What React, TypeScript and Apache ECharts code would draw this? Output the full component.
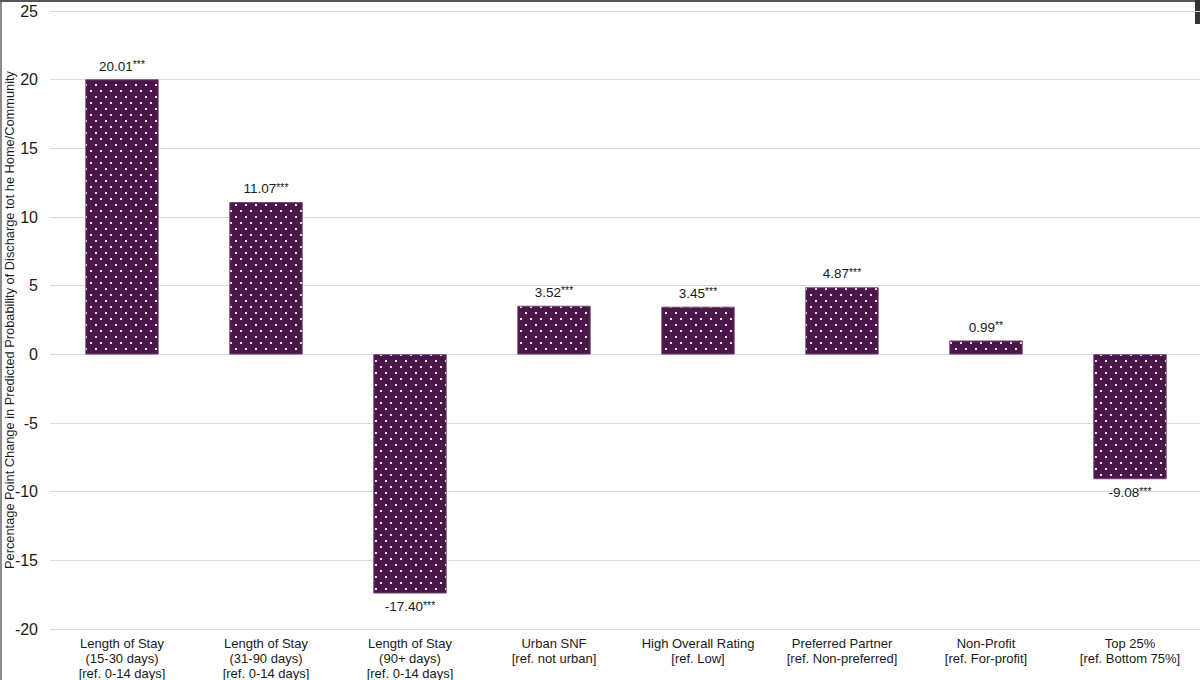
import React, { useEffect, useRef } from "react";
import * as echarts from "echarts";

const categories = [
  "Length of Stay\n(15-30 days)\n[ref. 0-14 days]",
  "Length of Stay\n(31-90 days)\n[ref. 0-14 days]",
  "Length of Stay\n(90+ days)\n[ref. 0-14 days]",
  "Urban SNF\n[ref. not urban]",
  "High Overall Rating\n[ref. Low]",
  "Preferred Partner\n[ref. Non-preferred]",
  "Non-Profit\n[ref. For-profit]",
  "Top 25%\n[ref. Bottom 75%]",
];
const values = [20.01, 11.07, -17.4, 3.52, 3.45, 4.87, 0.99, -9.08];
const stars = ["***", "***", "***", "***", "***", "***", "**", "***"];
const yAxisName =
  "Percentage Point Change in Predicted Probability of Discharge tot he Home/Community";

const FONT = "'Liberation Sans', Arial, Helvetica, sans-serif";

export default function App() {
  const ref = useRef<HTMLDivElement>(null);
  useEffect(() => {
    document.body.style.margin = "0";
    const chart = echarts.init(ref.current!, null, { renderer: "svg" });
    chart.setOption({
      animation: false,
      backgroundColor: "#ffffff",
      textStyle: { fontFamily: FONT },
      grid: {
        left: 50,
        top: 11,
        width: 1152,
        bottom: 51,
        containLabel: false,
        outerBoundsMode: "none",
      },
      xAxis: {
        type: "category",
        data: categories,
        axisLine: { show: false },
        axisTick: { show: false },
        axisLabel: {
          color: "#1a1a1a",
          fontSize: 13,
          lineHeight: 14.8,
          margin: 7,
          interval: 0,
          verticalAlign: "top",
          fontFamily: FONT,
        },
      },
      yAxis: {
        type: "value",
        min: -20,
        max: 25,
        interval: 5,
        axisLine: { show: false },
        axisTick: { show: false },
        axisLabel: { fontSize: 16, color: "#1a1a1a", margin: 12, fontFamily: FONT },
        splitLine: { lineStyle: { color: "#d9d9d9", width: 1 } },
      },
      series: [
        {
          type: "bar",
          barWidth: 73,
          data: values.map((v, i) => ({
            value: v,
            label: {
              position: v >= 0 ? "top" : "bottom",
              formatter: () => `{v|${v.toFixed(2)}}{s|${stars[i]}}`,
            },
          })),
          itemStyle: {
            color: "#4a1749",
            borderColor: "#6b3f6a",
            borderWidth: 0.6,
            decal: {
              symbol: "rect",
              symbolSize: 1,
              color: "#f3dcf0",
              dashArrayX: [
                [2, 7.5],
                [0, 4.75, 2, 2.75],
              ],
              dashArrayY: [2, 3.3],
              rotation: 0,
            },
          },
          label: {
            show: true,
            distance: 6,
            color: "#1a1a1a",
            rich: {
              v: { fontSize: 13.5, color: "#1a1a1a", fontFamily: FONT },
              s: {
                fontSize: 10.5,
                color: "#1a1a1a",
                fontFamily: FONT,
                padding: [0, 0, 4, 0],
              },
            },
          },
        },
      ],
      graphic: [
        { type: "rect", left: 0, top: 0, shape: { width: 2, height: 680 }, style: { fill: "#8c8c8c" } },
        { type: "rect", left: 0, top: 0, shape: { width: 1200, height: 2 }, style: { fill: "#555555" } },
        { type: "rect", left: 1195, top: 0, shape: { width: 5, height: 24 }, style: { fill: "#333333" } },
        {
          type: "text",
          x: 9,
          y: 320,
          rotation: Math.PI / 2,
          style: {
            text: yAxisName,
            fontSize: 12.8,
            fontFamily: FONT,
            fill: "#1a1a1a",
            align: "center",
            verticalAlign: "middle",
          },
        },
      ],
    });
    return () => chart.dispose();
  }, []);
  return (
    <div
      ref={ref}
      style={{ position: "absolute", left: 0, top: 0, width: 1200, height: 680 }}
    />
  );
}
